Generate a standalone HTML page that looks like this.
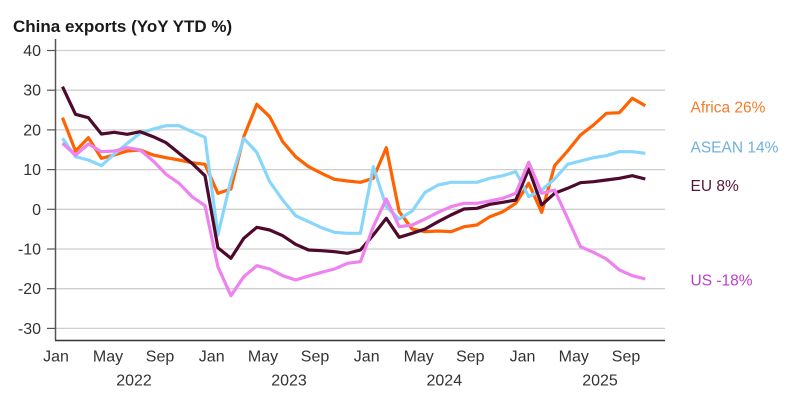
<!DOCTYPE html>
<html>
<head>
<meta charset="utf-8">
<style>
html,body{margin:0;padding:0;background:#fff;}
svg{display:block;}
text{font-family:"Liberation Sans",sans-serif;}
</style>
</head>
<body>
<svg width="800" height="412" viewBox="0 0 800 412" xmlns="http://www.w3.org/2000/svg">
<rect width="800" height="412" fill="#fff"/>
<text x="13" y="32" font-size="17" font-weight="bold" fill="#1a1a1a">China exports (YoY YTD %)</text>

<!-- gridlines -->
<g stroke="#cfcfcf" stroke-width="1.3">
<line x1="55" x2="665" y1="50.5" y2="50.5"/>
<line x1="55" x2="665" y1="90.2" y2="90.2"/>
<line x1="55" x2="665" y1="129.9" y2="129.9"/>
<line x1="55" x2="665" y1="169.6" y2="169.6"/>
<line x1="55" x2="665" y1="209.3" y2="209.3"/>
<line x1="55" x2="665" y1="249" y2="249"/>
<line x1="55" x2="665" y1="288.7" y2="288.7"/>
<line x1="55" x2="665" y1="328.4" y2="328.4"/>
</g>
<!-- ticks -->
<g stroke="#555" stroke-width="1.2">
<line x1="47" x2="55" y1="50.5" y2="50.5"/>
<line x1="47" x2="55" y1="90.2" y2="90.2"/>
<line x1="47" x2="55" y1="129.9" y2="129.9"/>
<line x1="47" x2="55" y1="169.6" y2="169.6"/>
<line x1="47" x2="55" y1="209.3" y2="209.3"/>
<line x1="47" x2="55" y1="249" y2="249"/>
<line x1="47" x2="55" y1="288.7" y2="288.7"/>
<line x1="47" x2="55" y1="328.4" y2="328.4"/>
</g>
<!-- axes -->
<line x1="55.5" x2="55.5" y1="39" y2="340.5" stroke="#555" stroke-width="1.5"/>
<line x1="55" x2="665" y1="340.5" y2="340.5" stroke="#333" stroke-width="1.5"/>

<!-- y labels -->
<g font-size="16" fill="#333" text-anchor="end">
<text x="41" y="56">40</text>
<text x="41" y="95.7">30</text>
<text x="41" y="135.4">20</text>
<text x="41" y="175.1">10</text>
<text x="41" y="214.8">0</text>
<text x="41" y="254.5">-10</text>
<text x="41" y="294.2">-20</text>
<text x="41" y="333.9">-30</text>
</g>

<!-- x labels -->
<g font-size="16" fill="#333" text-anchor="middle">
<text x="56" y="361.5">Jan</text>
<text x="108" y="361.5">May</text>
<text x="160" y="361.5">Sep</text>
<text x="211.7" y="361.5">Jan</text>
<text x="263" y="361.5">May</text>
<text x="315" y="361.5">Sep</text>
<text x="366.7" y="361.5">Jan</text>
<text x="418.7" y="361.5">May</text>
<text x="470.3" y="361.5">Sep</text>
<text x="522.5" y="361.5">Jan</text>
<text x="573.8" y="361.5">May</text>
<text x="626" y="361.5">Sep</text>
<text x="134" y="385.5">2022</text>
<text x="289" y="385.5">2023</text>
<text x="444.3" y="385.5">2024</text>
<text x="600" y="385.5">2025</text>
</g>

<!-- series -->
<g fill="none" stroke-width="3.2" stroke-linejoin="round" stroke-linecap="butt">
<polyline stroke="#FF6200" points="62.5,117.7 75.5,151 88.4,137.7 101.4,158.3 114.3,155 127.3,151 140.2,150 153.2,155 166.1,157.7 179.1,160 192,162.7 205,164.3 217.9,193.3 230.9,189 243.8,136.7 256.8,104.3 269.7,116.7 282.7,141.7 295.6,156.7 308.6,166.7 321.5,173.3 334.5,179.3 347.4,181 360.4,182.3 373.3,178.3 386.3,147.7 399.2,211.7 412.2,229 425.1,231.7 438.1,231 451,231.7 464,226.7 476.9,225 489.9,216.7 502.8,211.7 515.8,203.3 528.7,183.3 541.7,212.3 554.6,165.7 567.6,151 580.5,135 593.5,125 606.4,113.3 619.4,112.7 632.3,98.3 645.3,105.7"/>
<polyline stroke="#89D6FD" points="62.5,138.3 75.5,156.7 88.4,160 101.4,165.7 114.3,154 127.3,143.3 140.2,133.3 153.2,129 166.1,125.7 179.1,125.7 192,131.7 205,137.3 217.9,235 230.9,180 243.8,138.3 256.8,152.3 269.7,181.7 282.7,200 295.6,215.7 308.6,221.7 321.5,227.7 334.5,232.3 347.4,233.3 360.4,233.3 373.3,166.7 386.3,206.7 399.2,219 412.2,211 425.1,192.3 438.1,185 451,182.3 464,182.3 476.9,182.3 489.9,178.3 502.8,175.7 515.8,171.7 528.7,196.7 541.7,190 554.6,179 567.6,164.3 580.5,161 593.5,157.7 606.4,155.7 619.4,151.7 632.3,151.7 645.3,153.3"/>
<polyline stroke="#4D0A2C" points="62.5,86.7 75.5,114.3 88.4,117.7 101.4,134 114.3,132.3 127.3,134.3 140.2,131.7 153.2,136.7 166.1,142.7 179.1,153.3 192,163.3 205,175.7 217.9,247.7 230.9,258.3 243.8,238.3 256.8,227.3 269.7,230 282.7,235.7 295.6,244.3 308.6,250 321.5,250.7 334.5,251.7 347.4,253.3 360.4,250 373.3,235 386.3,218.3 399.2,237.3 412.2,233.3 425.1,229 438.1,221.7 451,215 464,209 476.9,208.3 489.9,204.3 502.8,202.3 515.8,200 528.7,169 541.7,205 554.6,193.3 567.6,188.3 580.5,182.7 593.5,181.7 606.4,180 619.4,178.3 632.3,175.7 645.3,179"/>
<polyline stroke="#EE82EE" points="62.5,143.3 75.5,155 88.4,144 101.4,151.7 114.3,151 127.3,147.7 140.2,150 153.2,161 166.1,174.3 179.1,183.3 192,196.7 205,205.7 217.9,266.7 230.9,295.7 243.8,276.7 256.8,265.7 269.7,269 282.7,275.7 295.6,280 308.6,276 321.5,272.3 334.5,269 347.4,263.3 360.4,261.7 373.3,226.7 386.3,199 399.2,226.7 412.2,225 425.1,219 438.1,212.3 451,206.7 464,203.3 476.9,203.3 489.9,201 502.8,198.3 515.8,193.3 528.7,162.3 541.7,193.3 554.6,190 567.6,218.3 580.5,246.7 593.5,252.3 606.4,259 619.4,270 632.3,275.7 645.3,279"/>
</g>

<!-- legend labels -->
<g font-size="15.5">
<text x="690.5" y="112.3" fill="#F47B2A">Africa 26%</text>
<text x="690.5" y="152.3" fill="#6FB0DC">ASEAN 14%</text>
<text x="690.5" y="191" fill="#55163A">EU 8%</text>
<text x="690.5" y="285.7" fill="#B840C8">US -18%</text>
</g>
</svg>
</body>
</html>
